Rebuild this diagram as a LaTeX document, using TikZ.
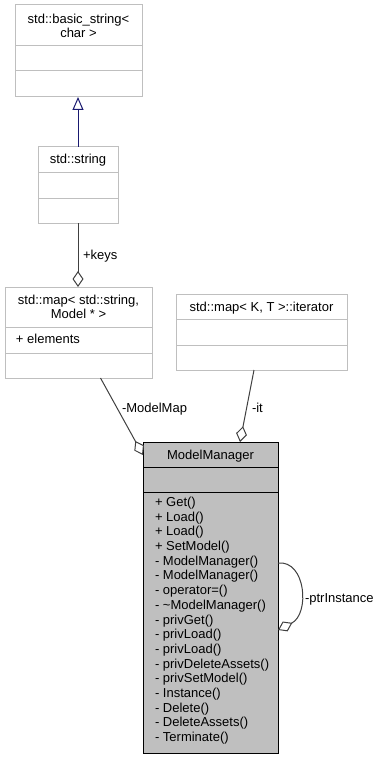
\documentclass[tikz,border=0pt]{standalone}
\usepackage{fontspec}
\setmainfont{Liberation Sans}
\usetikzlibrary{arrows.meta}
\definecolor{boxline}{RGB}{191,191,191}
\definecolor{classfill}{RGB}{191,191,191}
\definecolor{edgegray}{RGB}{64,64,64}
\definecolor{inheritblue}{RGB}{25,25,112}
% horizontal compartment rule inside a class box, #2 below its top
\newcommand\classrule[3][boxline]{\draw[#1,line width=1pt] ([yshift=-#3]#2.north west) -- ([yshift=-#3]#2.north east);}
\begin{document}
\begin{tikzpicture}[x=1pt,y=-1pt,
  every node/.style={font=\fontsize{13}{13.8}\selectfont, inner sep=0pt, outer sep=0pt},
  classbox/.style={draw=boxline, fill=white, line width=1pt, anchor=north west},
  activebox/.style={draw=black, fill=classfill, line width=1pt, anchor=north west},
  txt/.style={anchor=base},
  ltxt/.style={anchor=base west},
  assoc/.style={draw=edgegray, line width=1pt, -{Diamond[open, length=16pt, width=11pt, fill=white]}},
  generalize/.style={draw=inheritblue, line width=1pt, -{Triangle[open, length=13pt, width=11pt, fill=white]}}
]
\useasboundingbox (0,0) rectangle (381,759);

% std::basic_string< char >
\node[classbox, minimum width=127pt, minimum height=92pt] (basic) at (15,5) {};
\classrule{basic}{41pt}
\classrule{basic}{66pt}
\node[txt] (basicT1) at (78.5,23.5) {std::basic\_string<};
\node[txt] (basicT2) at (78.5,38) {char >};

% std::string
\node[classbox, minimum width=80pt, minimum height=76pt] (str) at (38,147) {};
\classrule{str}{26pt}
\classrule{str}{52pt}
\node[txt] (strT) at (78,163.5) {std::string};

% std::map< std::string, Model * >
\node[classbox, minimum width=147pt, minimum height=91pt] (map) at (5,287) {};
\classrule{map}{40pt}
\classrule{map}{66pt}
\node[txt] (mapT1) at (78.5,304.5) {std::map< std::string,};
\node[txt] (mapT2) at (78.5,318) {Model * >};
\node[ltxt] (mapA) at (16,343.5) {+ elements};

% std::map< K, T >::iterator
\node[classbox, minimum width=171pt, minimum height=76pt] (iter) at (176,294) {};
\classrule{iter}{25pt}
\classrule{iter}{51pt}
\node[txt] (iterT) at (261.5,311) {std::map< K, T >::iterator};

% ModelManager
\node[activebox, minimum width=135pt, minimum height=311pt] (mm) at (143,442) {};
\classrule[black]{mm}{25pt}
\classrule[black]{mm}{50pt}
\node[txt] (mmT) at (210.5,459) {ModelManager};
\foreach \m [count=\i from 0] in {+ Get(), + Load(), + Load(), + SetModel(),
  - ModelManager(), - ModelManager(), - operator=(), - {\textasciitilde}ModelManager(),
  - privGet(), - privLoad(), - privLoad(), - privDeleteAssets(), - privSetModel(),
  - Instance(), - Delete(), - DeleteAssets(), - Terminate()}
  \node[ltxt] (mmOp\i) at (155,506.5+14.69*\i) {\m};

% relations
\draw[generalize] (str.north) -- (str.north |- basic.south);
\draw[assoc] (str.south) -- (str.south |- map.north);
\node[ltxt] (lkeys) at (83,259.5) {+keys};

\draw[assoc] ([xshift=22pt]map.south) -- ([yshift=-13pt]mm.north west);
\node[ltxt] (lmodelmap) at (122,412.5) {-ModelMap};

\draw[assoc] ([xshift=-7.5pt]iter.south) -- ([xshift=29.5pt]mm.north);
\node[ltxt] (lit) at (252,412.5) {-it};

\draw[assoc] ([yshift=-121pt]mm.north east) .. controls (306,560) and (310,614) .. ([yshift=-188pt]mm.north east);
\node[ltxt] (lptr) at (305,602) {-ptrInstance};
\end{tikzpicture}
\end{document}
